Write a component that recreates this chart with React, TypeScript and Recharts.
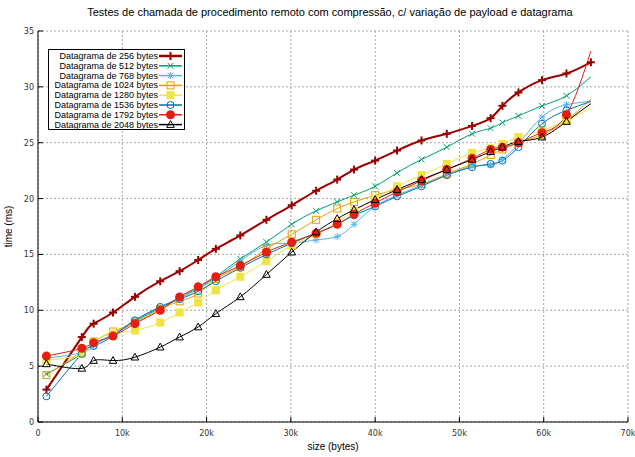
import { CartesianGrid, Label, Legend, Line, LineChart, XAxis, YAxis } from "recharts";

// payload sizes (bytes) on the x axis
const sizes = [
    1000, 5200, 6600, 8900, 11500, 14500, 16800, 19000, 21100, 24000, 27100, 30100, 33000, 35500, 37500, 40000,
    42600, 45500, 48500, 51500, 53700, 55100, 57000, 59800, 62700, 65600,
];

// time (ms) per datagram size
const d256 = [
    2.9, 7.6, 8.8, 9.8, 11.2, 12.6, 13.5, 14.5, 15.5, 16.7, 18.1, 19.4, 20.7, 21.7, 22.6, 23.4, 24.3, 25.2, 25.8,
    26.5, 27.2, 28.3, 29.5, 30.6, 31.2, 32.2,
];
const d512 = [
    4.3, 6.1, 7.0, 7.8, 9.0, 10.2, 11.1, 12.0, 13.0, 14.6, 16.1, 17.7, 18.9, 19.7, 20.3, 21.1, 22.3, 23.5, 24.6,
    25.8, 26.3, 26.8, 27.4, 28.3, 29.2, 30.9,
];
const d768 = [
    5.7, 6.2, 6.8, 7.9, 9.1, 10.3, 11.1, 11.9, 12.9, 14.4, 15.8, 16.0, 16.3, 16.6, 17.7, 19.3, 20.3, 21.2, 22.1,
    22.9, 23.0, 23.5, 24.9, 27.3, 28.4, 28.7,
];
const d1024 = [
    4.2, 6.3, 7.2, 8.1, 8.9, 10.1, 10.8, 11.5, 12.8, 13.9, 15.5, 16.8, 18.1, 19.1, 19.7, 20.3, 20.8, 21.3, 22.2,
    23.1, 23.9, 24.4, 25.0, 25.7, 27.0, 28.9,
];
const d1280 = [
    5.5, 6.1, 7.2, 7.9, 8.2, 8.9, 9.8, 10.7, 11.8, 13.0, 14.4, 15.8, 16.8, 17.9, 18.9, 20.0, 21.1, 22.1, 23.1,
    24.1, 24.5, 24.9, 25.5, 26.1, 27.0, 28.1,
];
const d1536 = [
    2.3, 6.1, 6.8, 7.7, 9.1, 10.3, 11.0, 11.7, 12.6, 13.8, 15.0, 16.0, 16.9, 17.7, 18.5, 19.3, 20.2, 21.1, 22.1,
    22.8, 23.1, 23.4, 24.6, 26.7, 27.9, 28.7,
];
const d1792 = [
    5.9, 6.6, 7.1, 7.7, 8.8, 10.0, 11.2, 12.1, 13.0, 14.0, 15.2, 16.1, 16.9, 17.7, 18.6, 19.6, 20.6, 21.6, 22.6,
    23.6, 24.4, 24.6, 25.0, 25.9, 27.5, 33.2,
];
const d2048 = [
    5.2, 4.8, 5.5, 5.5, 5.8, 6.7, 7.6, 8.5, 9.7, 11.2, 13.2, 15.2, 17.0, 18.2, 19.0, 19.9, 20.8, 21.7, 22.6, 23.5,
    24.2, 24.6, 25.1, 25.5, 26.9, 28.5,
];

const xTicks = [0, 10000, 20000, 30000, 40000, 50000, 60000, 70000];
const yTicks = [0, 5, 10, 15, 20, 25, 30, 35];

const title = "Testes de chamada de procedimento remoto com compressão, c/ variação de payload e datagrama";

type MarkerKind = "plus" | "cross" | "star" | "square" | "fsquare" | "circle" | "fcircle" | "triangle";

const series: { key: string; name: string; color: string; width: number; marker: MarkerKind; values: number[]; lastDot: boolean }[] = [
    { key: "d256", name: "Datagrama de 256 bytes", color: "#9a0000", width: 2, marker: "plus", values: d256, lastDot: true },
    { key: "d512", name: "Datagrama de 512 bytes", color: "#009e73", width: 1, marker: "cross", values: d512, lastDot: false },
    { key: "d768", name: "Datagrama de 768 bytes", color: "#56b4e9", width: 1, marker: "star", values: d768, lastDot: false },
    { key: "d1024", name: "Datagrama de 1024 bytes", color: "#e69f00", width: 1, marker: "square", values: d1024, lastDot: false },
    { key: "d1280", name: "Datagrama de 1280 bytes", color: "#f0e442", width: 1, marker: "fsquare", values: d1280, lastDot: false },
    { key: "d1536", name: "Datagrama de 1536 bytes", color: "#0072b2", width: 1, marker: "circle", values: d1536, lastDot: false },
    { key: "d1792", name: "Datagrama de 1792 bytes", color: "#e51e10", width: 1, marker: "fcircle", values: d1792, lastDot: false },
    { key: "d2048", name: "Datagrama de 2048 bytes", color: "#000000", width: 1, marker: "triangle", values: d2048, lastDot: false },
];

const rows = sizes.map((size, i) => {
    const row: Record<string, number> = { size };
    series.forEach((s) => (row[s.key] = s.values[i]));
    return row;
});

const fmtK = (v: number) => (v === 0 ? "0" : `${v / 1000}k`);

function Marker({ kind, x, y, color }: { kind: MarkerKind; x: number; y: number; color: string }) {
    switch (kind) {
        case "plus":
            return (
                <g stroke={color} strokeWidth={2}>
                    <line x1={x - 4} y1={y} x2={x + 4} y2={y} />
                    <line x1={x} y1={y - 4} x2={x} y2={y + 4} />
                </g>
            );
        case "cross":
            return (
                <g stroke={color} strokeWidth={1}>
                    <line x1={x - 3} y1={y - 3} x2={x + 3} y2={y + 3} />
                    <line x1={x - 3} y1={y + 3} x2={x + 3} y2={y - 3} />
                </g>
            );
        case "star":
            return (
                <g stroke={color} strokeWidth={1}>
                    <line x1={x - 3.5} y1={y} x2={x + 3.5} y2={y} />
                    <line x1={x} y1={y - 3.5} x2={x} y2={y + 3.5} />
                    <line x1={x - 2.8} y1={y - 2.8} x2={x + 2.8} y2={y + 2.8} />
                    <line x1={x - 2.8} y1={y + 2.8} x2={x + 2.8} y2={y - 2.8} />
                </g>
            );
        case "square":
            return <rect x={x - 3.5} y={y - 3.5} width={7} height={7} fill="none" stroke={color} strokeWidth={1} />;
        case "fsquare":
            return <rect x={x - 4} y={y - 4} width={8} height={8} fill={color} stroke="none" />;
        case "circle":
            return <circle cx={x} cy={y} r={3.5} fill="none" stroke={color} strokeWidth={1} />;
        case "fcircle":
            return <circle cx={x} cy={y} r={4.5} fill={color} stroke="none" />;
        default:
            return (
                <polygon
                    points={`${x},${y - 4} ${x - 3.8},${y + 2.8} ${x + 3.8},${y + 2.8}`}
                    fill="none"
                    stroke={color}
                    strokeWidth={1}
                />
            );
    }
}

function LegendBox() {
    return (
        <svg width={137} height={81} style={{ display: "block" }}>
            <rect x={0.5} y={0.5} width={136} height={80} fill="#fff" stroke="#000" />
            {series.map((s, i) => {
                const y = 7 + i * 9.8;
                return (
                    <g key={s.key}>
                        <text x={110} y={y + 3} textAnchor="end" fontSize={9} fontFamily="Liberation Sans" fill="#000">
                            {s.name}
                        </text>
                        <line x1={111} y1={y} x2={134} y2={y} stroke={s.color} strokeWidth={s.width + 0.5} />
                        <Marker kind={s.marker} x={122.5} y={y} color={s.color} />
                    </g>
                );
            })}
        </svg>
    );
}

const BottomTick = ({ x, y, payload }: any) => (
    <g>
        <line x1={x} y1={y} x2={x} y2={y - 5} stroke="#000" />
        <text x={x} y={y + 14} textAnchor="middle" fontSize={8} fontFamily="DejaVu Sans" fill="#333">
            {fmtK(payload.value)}
        </text>
    </g>
);

const TopTick = ({ x, y }: any) => <line x1={x} y1={y} x2={x} y2={y + 5} stroke="#000" />;

const LeftTick = ({ x, y, payload }: any) => (
    <g>
        <line x1={x} y1={y} x2={x + 5} y2={y} stroke="#000" />
        <text x={x - 4} y={y + 3} textAnchor="end" fontSize={8} fontFamily="DejaVu Sans" fill="#333">
            {payload.value}
        </text>
    </g>
);

const RightTick = ({ x, y }: any) => <line x1={x} y1={y} x2={x - 5} y2={y} stroke="#000" />;

export default function App() {
    return (
        <div style={{ position: "absolute", left: 0, top: 0, width: 635, height: 457, background: "#fff" }}>
            <div
                style={{
                    position: "absolute",
                    left: 25,
                    top: 6,
                    width: 610,
                    textAlign: "center",
                    fontFamily: "Liberation Sans",
                    fontSize: 11,
                    lineHeight: "13px",
                    color: "#000",
                    whiteSpace: "nowrap",
                }}
            >
                {title}
            </div>
            <LineChart
                width={635}
                height={457}
                data={rows}
                margin={{ top: 31, right: 7, bottom: 0, left: 0 }}
                style={{ fontFamily: "Liberation Sans" }}
            >
                <CartesianGrid stroke="#a8a8a8" strokeDasharray="2 2" />
                <XAxis
                    dataKey="size"
                    type="number"
                    domain={[0, 70000]}
                    ticks={xTicks}
                    height={35}
                    axisLine={{ stroke: "#000" }}
                    tickLine={false}
                    tickSize={0}
                    tickMargin={0}
                    tick={BottomTick}
                    interval={0}
                >
                    <Label
                        content={({ viewBox }: any) => (
                            <text
                                x={viewBox.x + viewBox.width / 2}
                                y={viewBox.y + 28}
                                textAnchor="middle"
                                fontSize={10}
                                fontFamily="Liberation Sans"
                                fill="#000"
                            >
                                size (bytes)
                            </text>
                        )}
                    />
                </XAxis>
                <XAxis
                    xAxisId="top"
                    orientation="top"
                    dataKey="size"
                    type="number"
                    domain={[0, 70000]}
                    ticks={xTicks}
                    height={0}
                    axisLine={{ stroke: "#000" }}
                    tickLine={false}
                    tickSize={0}
                    tickMargin={0}
                    tick={TopTick}
                    interval={0}
                />
                <YAxis
                    type="number"
                    domain={[0, 35]}
                    ticks={yTicks}
                    width={38}
                    axisLine={{ stroke: "#000" }}
                    tickLine={false}
                    tickSize={0}
                    tickMargin={0}
                    tick={LeftTick}
                    interval={0}
                >
                    <Label
                        content={({ viewBox }: any) => {
                            const cx = viewBox.x + 12;
                            const cy = viewBox.y + viewBox.height / 2;
                            return (
                                <text
                                    x={cx}
                                    y={cy}
                                    transform={`rotate(-90 ${cx} ${cy})`}
                                    textAnchor="middle"
                                    fontSize={10}
                                    fontFamily="Liberation Sans"
                                    fill="#000"
                                >
                                    time (ms)
                                </text>
                            );
                        }}
                    />
                </YAxis>
                <YAxis
                    yAxisId="right"
                    orientation="right"
                    type="number"
                    domain={[0, 35]}
                    ticks={yTicks}
                    width={0}
                    axisLine={{ stroke: "#000" }}
                    tickLine={false}
                    tickSize={0}
                    tickMargin={0}
                    tick={RightTick}
                    interval={0}
                />
                <Legend
                    layout="vertical"
                    align="center"
                    verticalAlign="middle"
                    wrapperStyle={{ left: 48, top: 49, width: 137, height: 81 }}
                    content={() => <LegendBox />}
                />
                {series.map((s) => (
                    <Line
                        key={s.key}
                        type="natural"
                        dataKey={s.key}
                        name={s.name}
                        stroke={s.color}
                        strokeWidth={s.width}
                        activeDot={false}
                        isAnimationActive={false}
                        dot={(p: any) => (
                            <g key={`${s.key}-${p.index}`}>
                                {(s.lastDot || p.index < sizes.length - 1) && (
                                    <Marker kind={s.marker} x={p.cx} y={p.cy} color={s.color} />
                                )}
                            </g>
                        )}
                    />
                ))}
            </LineChart>
        </div>
    );
}
